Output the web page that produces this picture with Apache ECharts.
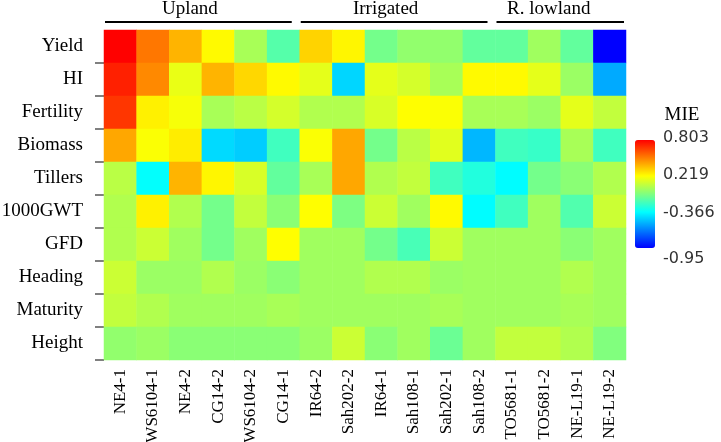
<!DOCTYPE html>
<html>
<head>
<meta charset="utf-8">
<script src="https://cdn.jsdelivr.net/npm/echarts@6/dist/echarts.min.js"></script>
<style>
html,body{margin:0;padding:0;background:#fff;}
#chart{width:721px;height:442px;}
</style>
</head>
<body>
<div id="chart"></div>
<script>
const traits = ['Yield','HI','Fertility','Biomass','Tillers','1000GWT','GFD','Heading','Maturity','Height'];
const lines = ['NE4-1','WS6104-1','NE4-2','CG14-2','WS6104-2','CG14-1','IR64-2','Sah202-2','IR64-1','Sah108-1','Sah202-1','Sah108-2','TO5681-1','TO5681-2','NE-L19-1','NE-L19-2'];
const groups = [
  {name:'Upland', from:0, to:5},
  {name:'Irrigated', from:6, to:11},
  {name:'R. lowland', from:12, to:15}
];
const legendTicks = ['0.803','0.219','-0.366','-0.95'];
const mieMin = -0.95, mieMax = 0.803;

const yieldV     = [0.80, 0.53, 0.39, 0.23, 0.02, -0.17, 0.32, 0.24, -0.10, -0.03, -0.03, -0.14, -0.14, 0.00, -0.14, -0.95];
const hiV        = [0.73, 0.49, 0.17, 0.39, 0.31, 0.23, 0.16, -0.46, 0.16, 0.12, 0.02, 0.23, 0.23, 0.16, -0.01, -0.56];
const fertilityV = [0.68, 0.25, 0.20, 0.02, 0.06, 0.12, 0.04, 0.04, 0.13, 0.22, 0.21, 0.02, 0.02, -0.01, 0.16, 0.08];
const biomassV   = [0.42, 0.21, 0.26, -0.45, -0.48, -0.22, 0.21, 0.42, -0.10, 0.06, 0.15, -0.53, -0.22, -0.24, 0.02, -0.22];
const tillersV   = [0.06, -0.36, 0.39, 0.24, 0.13, -0.14, 0.02, 0.42, 0.04, 0.08, -0.22, -0.29, -0.37, -0.10, -0.05, 0.04];
const gwtV       = [0.04, 0.25, 0.04, -0.10, 0.08, -0.05, 0.22, -0.08, 0.10, 0.00, 0.23, -0.37, -0.22, 0.00, -0.18, 0.10];
const gfdV       = [0.04, 0.10, 0.00, -0.10, 0.00, 0.22, 0.00, 0.00, -0.10, -0.20, 0.10, 0.00, 0.00, 0.00, -0.05, 0.00];
const headingV   = [0.10, -0.01, -0.01, 0.04, -0.01, -0.05, 0.00, 0.00, 0.04, 0.04, -0.01, 0.00, 0.00, 0.00, 0.04, 0.00];
const maturityV  = [0.08, 0.04, 0.00, 0.00, 0.00, 0.02, 0.00, 0.00, 0.00, 0.00, 0.02, 0.00, 0.00, 0.00, 0.02, 0.00];
const heightV    = [-0.03, -0.01, -0.05, -0.05, -0.05, -0.05, -0.01, 0.10, -0.05, 0.00, -0.12, 0.00, 0.08, 0.08, 0.04, -0.07];

const rowsV = [yieldV, hiV, fertilityV, biomassV, tillersV, gwtV, gfdV, headingV, maturityV, heightV];
const data = [];
rowsV.forEach((row, r) => row.forEach((v, c) => data.push([c, r, v])));

const serif = 'Liberation Serif, Times New Roman, serif';
const chart = echarts.init(document.getElementById('chart'));
chart.setOption({
  animation: false,
  grid: {left: 104, right: 95, top: 30, bottom: 82, containLabel: false, outerBoundsMode: 'none'},
  xAxis: {
    type: 'category', data: lines,
    axisLine: {show: false}, axisTick: {show: false}, splitLine: {show: false},
    axisLabel: {rotate: 90, fontFamily: serif, fontSize: 17, color: '#000', margin: 9, interval: 0}
  },
  yAxis: {
    type: 'category', data: traits, inverse: true,
    axisLine: {show: false},
    axisTick: {show: true, length: 9, lineStyle: {color: '#808080', width: 2}, interval: function (i) { return i !== 0; }},
    splitLine: {show: false},
    axisLabel: {fontFamily: serif, fontSize: 19, color: '#000', margin: 21, interval: 0}
  },
  visualMap: {
    type: 'continuous', min: mieMin, max: mieMax, calculable: false,
    orient: 'vertical', left: 635, top: 140, itemWidth: 20, itemHeight: 108, padding: 0,
    text: null, showLabel: false,
    inRange: {color: ['#0000ff', '#00ffff', '#ffff00', '#ff0000']}
  },
  series: [{
    type: 'heatmap', data: data,
    itemStyle: {borderWidth: 0},
    emphasis: {disabled: true},
    progressive: 0
  }]
});

function placeDecor() {
  const g = [];
  const p0 = chart.convertToPixel({xAxisIndex: 0}, 0);
  const p1 = chart.convertToPixel({xAxisIndex: 0}, 1);
  const band = p1 - p0;
  const lineY = 22;
  groups.forEach((grp, k) => {
    const xs = chart.convertToPixel({xAxisIndex: 0}, grp.from) - band / 2;
    const xe = chart.convertToPixel({xAxisIndex: 0}, grp.to) + band / 2;
    const endInset = k === groups.length - 1 ? 2 : 8;
    g.push({type: 'line', shape: {x1: xs + 1, y1: lineY, x2: xe - endInset, y2: lineY},
            style: {stroke: '#000', lineWidth: 2}});
    g.push({type: 'text', x: (xs + xe) / 2 - 12, y: 9,
            style: {text: grp.name, font: '19px ' + serif, fill: '#000', textAlign: 'center', textVerticalAlign: 'middle'}});
  });
  g.push({type: 'text', x: 682, y: 115,
          style: {text: 'MIE', font: '19px ' + serif, fill: '#000', textAlign: 'center', textVerticalAlign: 'middle'}});
  const labelY = [138, 175, 213, 259];
  legendTicks.forEach((t, i) => {
    g.push({type: 'text', x: 663, y: labelY[i],
            style: {text: t, font: '16px DejaVu Sans, sans-serif', fill: '#333', textAlign: 'left', textVerticalAlign: 'middle'}});
  });
  chart.setOption({graphic: g});
}
placeDecor();
</script>
</body>
</html>
